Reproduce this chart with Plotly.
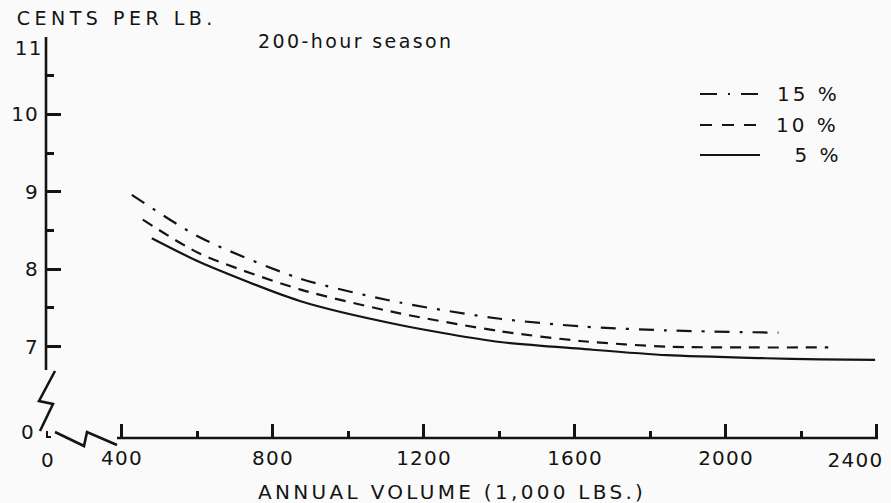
import plotly.graph_objects as go

# ---------------- data ----------------
series_names = ["15 %", "10 %", "5 %"]
vol_15 = [426, 607, 871, 1136, 1401, 1621, 1843, 2139]
cost_15 = [8.96, 8.41, 7.88, 7.57, 7.36, 7.26, 7.21, 7.18]
vol_10 = [455, 607, 871, 1136, 1401, 1621, 1843, 2050, 2271]
cost_10 = [8.64, 8.20, 7.74, 7.43, 7.20, 7.07, 7.00, 6.99, 6.99]
vol_5 = [479, 607, 871, 1136, 1401, 1621, 1843, 2105, 2250, 2395]
cost_5 = [8.40, 8.09, 7.59, 7.28, 7.06, 6.97, 6.89, 6.85, 6.835, 6.83]

x_tickvals = [400, 800, 1200, 1600, 2000, 2400]
x_ticktext = ["400", "800", "1200", "1600", "2000", "2400"]
x_minorvals = [600, 1000, 1400, 1800, 2200]
y_tickvals = [7, 8, 9, 10, 11]
y_ticktext = ["7", "8", "9", "10", "11"]
y_minorvals = [7.5, 8.5, 9.5, 10.5]
break_label = "0"

title_text = "200-hour season"
y_title = "CENTS PER LB."
x_title = "ANNUAL VOLUME (1,000 LBS.)"

# ---------------- layout geometry ----------------
W, H = 891, 503
L, R, T, B = 46, 880, 37, 438
X_RANGE = [198.7, 2408.0]
Y_RANGE = [5.82, 11.0]
INK = "#141414"
FONT = "DejaVu Sans"


def px(xp):
    return (xp - L) / (R - L)


def py(yp):
    return (B - yp) / (B - T)


def path_px(points):
    s = ""
    for i, (a, b) in enumerate(points):
        s += ("M" if i == 0 else "L") + f" {px(a):.5f},{py(b):.5f} "
    return s


fig = go.Figure()

curve_dash = ["15px,10px,3px,10px", "11px,8px", "solid"]
for name, xs, ys, dsh in zip(series_names, [vol_15, vol_10, vol_5],
                             [cost_15, cost_10, cost_5], curve_dash):
    fig.add_trace(go.Scatter(
        x=xs, y=ys, name=name, mode="lines", showlegend=False,
        line=dict(color=INK, width=2.2, dash=dsh, shape="spline", smoothing=0.7),
        hoverinfo="skip", cliponaxis=True,
    ))

fig.update_layout(
    width=W, height=H,
    margin=dict(l=L, r=W - R, t=T, b=H - B),
    paper_bgcolor="#fafafa", plot_bgcolor="#fafafa",
    font=dict(family=FONT, color=INK, size=19),
    showlegend=False,
)

# the last x label (2400) and the top y label (11) are placed by hand below
x_ticktext_axis = x_ticktext[:-1] + [""]
y_ticktext_axis = y_ticktext[:-1] + [""]

fig.update_xaxes(
    range=X_RANGE, showgrid=False, zeroline=False, showline=False,
    tickmode="array", tickvals=x_tickvals, ticktext=x_ticktext_axis,
    ticks="inside", ticklen=14, tickwidth=2.5, tickcolor=INK,
    ticklabelstandoff=6,
    tickfont=dict(size=20, family=FONT, color=INK),
    minor=dict(tickmode="array", tickvals=x_minorvals, ticks="inside",
               ticklen=7, tickwidth=2.5, tickcolor=INK, showgrid=False),
)
fig.update_yaxes(
    range=Y_RANGE, showgrid=False, zeroline=False, showline=False,
    tickmode="array", tickvals=y_tickvals, ticktext=y_ticktext_axis,
    ticks="inside", ticklen=15, tickwidth=2.5, tickcolor=INK,
    ticklabelstandoff=6,
    tickfont=dict(size=20, family=FONT, color=INK),
    minor=dict(tickmode="array", tickvals=y_minorvals, ticks="inside",
               ticklen=8, tickwidth=2.5, tickcolor=INK, showgrid=False),
)

# axis lines (broken axes)
axw = 2.6
fig.add_shape(type="line", xref="paper", yref="paper",
              x0=0, x1=0, y0=py(370), y1=1, line=dict(color=INK, width=axw))
fig.add_shape(type="line", xref="paper", yref="paper",
              x0=px(117), x1=px(878), y0=0, y1=0, line=dict(color=INK, width=axw))
# y-axis break zigzag
fig.add_shape(type="path", xref="paper", yref="paper",
              path=path_px([(55, 371), (39, 401), (53, 404), (40, 431)]),
              line=dict(color=INK, width=axw))
# x-axis break zigzag
fig.add_shape(type="path", xref="paper", yref="paper",
              path=path_px([(55, 432), (84, 446), (87, 432), (117, 445)]),
              line=dict(color=INK, width=axw))
# small origin mark
fig.add_shape(type="path", xref="paper", yref="paper",
              path=path_px([(47, 431), (47, 437), (51, 437)]),
              line=dict(color=INK, width=2))

# annotations: (text, x-centre px, y-centre px, size, letter-spacing)
ann_specs = [
    (break_label, 27, 432, 20, 0),
    (break_label, 47, 460, 20, 0),
    (y_ticktext[-1], 28, 48, 20, 1.2),
    (x_ticktext[-1], 855, 460, 20, 1.2),
    (y_title, 117, 18, 19, 4.5),
    (title_text, 355, 41, 19, 2.4),
    (x_title, 452, 492, 20, 3.3),
]
legend_dash = ["17px,11px,2px,11px", "12px,10px", "solid"]
legend_y = [94, 125, 155]
legend_cx = [808, 807, 818]
for name, dsh, ly, cx in zip(series_names, legend_dash, legend_y, legend_cx):
    fig.add_shape(type="line", xref="paper", yref="paper",
                  x0=px(700), x1=px(760), y0=py(ly), y1=py(ly),
                  line=dict(color=INK, width=2.2, dash=dsh))
    ann_specs.append((name, cx, ly, 20, 3))

spacings = []
for text, cx, cy, size, sp in ann_specs:
    fig.add_annotation(xref="paper", yref="paper", x=px(cx), y=py(cy),
                       text=text, showarrow=False, xanchor="center", yanchor="middle",
                       font=dict(size=size, family=FONT, color=INK))
    spacings.append(sp)

post = """
document.body.style.margin = '0';
document.body.style.padding = '0';
var gd = document.getElementById('{plot_id}');
var sp = %s;
var anns = gd.querySelectorAll('text.annotation-text');
anns.forEach(function(t, i) { if (i < sp.length) { t.style.letterSpacing = sp[i] + 'px'; } });
gd.querySelectorAll('g.xtick text, g.ytick text').forEach(function(t) { t.style.letterSpacing = '1.2px'; });
""" % (str(spacings))

fig.write_html("out.html", post_script=post, config={"displayModeBar": False})
